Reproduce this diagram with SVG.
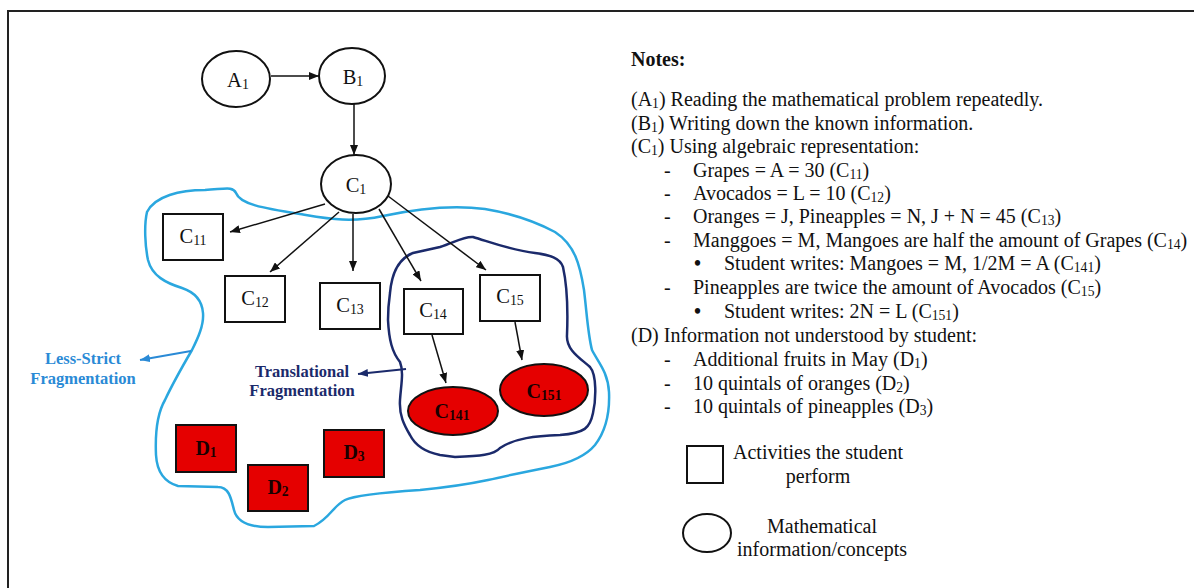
<svg xmlns="http://www.w3.org/2000/svg" width="1194" height="588" viewBox="0 0 1194 588">
<style>
text{font-family:"Liberation Serif","Times New Roman",serif;fill:#111}
.n{font-size:20px}
.bu{font-size:20px;font-weight:bold}
.lbl{font-size:20.5px;text-anchor:middle}
.bl{font-size:20px;text-anchor:middle;font-weight:bold;fill:#1a0000}
.s{font-size:0.68em;baseline-shift:-0.15em}
.node{fill:#fff;stroke:#111;stroke-width:2}
.red{fill:#e50000;stroke:#111;stroke-width:2}
.con{stroke:#111;stroke-width:1.5;fill:none;marker-end:url(#ah)}
.frag{font-size:16.5px;font-weight:bold;text-anchor:middle}
</style>
<defs>
<marker id="ah" viewBox="0 0 10 8" refX="10" refY="4" markerWidth="10" markerHeight="8" markerUnits="userSpaceOnUse" orient="auto"><path d="M0,0 L10,4 L0,8 z" fill="#111"/></marker>
<marker id="ahb" viewBox="0 0 10 8" refX="10" refY="4" markerWidth="10" markerHeight="8" markerUnits="userSpaceOnUse" orient="auto"><path d="M0,0 L10,4 L0,8 z" fill="#2a8ad6"/></marker>
<marker id="ahn" viewBox="0 0 10 8" refX="10" refY="4" markerWidth="10" markerHeight="8" markerUnits="userSpaceOnUse" orient="auto"><path d="M0,0 L10,4 L0,8 z" fill="#1b2a6b"/></marker>
</defs>
<rect width="1194" height="588" fill="#fff"/>
<path d="M8,588 L8,11 L1194,11" fill="none" stroke="#222" stroke-width="2"/>

<g id="regions" fill="none" stroke-width="2.5">
<path id="less-strict-region" stroke="#2aa7df" d="M147,212 C155,196 180,190 205,190 C225,189 233,186 236,193 C240,204 262,208 300,214 C330,219 350,223 383,216 C420,208 455,205 485,209 C515,214 540,224 555,232 C575,245 580,265 584,290 C587,315 588,335 592,350 C598,362 608,372 609,392 C610,415 605,432 595,445 C585,457 570,463 550,467 C525,472 505,476 488,480 C460,486 440,488 420,490 C390,492 355,495 345,500 C333,506 330,518 314,526 L268,527 C248,527 237,522 234,510 C231,498 229,487 218,487 L178,486 C164,482 157,472 156,455 C155,432 158,412 165,400 C172,385 185,362 192,350 C198,338 204,325 203,313 C202,300 194,292 182,288 C166,283 152,276 148,260 C145,246 144,225 147,212 Z"/>
<path id="translational-region" stroke="#1b2a6b" d="M390,293 C392,270 400,258 413,253 L440,247 C455,242 465,236 473,237 C490,242 510,250 535,253 C550,255 560,258 563,267 C567,285 568,310 567,335 C566,350 580,358 590,367 C597,375 596,400 593,413 C590,428 585,433 560,435 C535,436 515,438 500,448 C494,455 480,456 455,457 L440,455 C425,452 415,445 410,435 C404,425 399,415 400,400 C401,385 404,372 400,362 C392,352 389,340 388,320 C388,308 389,300 390,293 Z"/>
</g>

<g id="connectors">
<line class="con" x1="271" y1="76" x2="319" y2="76"/>
<line class="con" x1="354" y1="104" x2="354" y2="155"/>
<line class="con" x1="325" y1="204" x2="230" y2="232"/>
<line class="con" x1="339" y1="212" x2="270" y2="272"/>
<line class="con" x1="353" y1="214" x2="353" y2="271"/>
<line class="con" x1="379" y1="209" x2="421" y2="281"/>
<line class="con" x1="388" y1="196" x2="486" y2="270"/>
<line class="con" x1="432" y1="335" x2="446" y2="383"/>
<line class="con" x1="515" y1="322" x2="522" y2="360"/>
<line x1="191" y1="351" x2="140" y2="360" stroke="#2a8ad6" stroke-width="2" marker-end="url(#ahb)"/>
<line x1="406" y1="369" x2="358" y2="374" stroke="#1b2a6b" stroke-width="2" marker-end="url(#ahn)"/>
</g>

<g id="A1"><ellipse class="node" cx="236" cy="79" rx="34" ry="28"/><text class="lbl" x="238" y="87">A<tspan class="s">1</tspan></text></g>
<g id="B1"><ellipse class="node" cx="352" cy="76" rx="33" ry="28"/><text class="lbl" x="353" y="84">B<tspan class="s">1</tspan></text></g>
<g id="C1"><ellipse class="node" cx="356" cy="184" rx="35" ry="29"/><text class="lbl" x="356" y="192">C<tspan class="s">1</tspan></text></g>
<g id="C11"><rect class="node" x="163" y="214" width="60" height="46"/><text class="lbl" x="193" y="243">C<tspan class="s">11</tspan></text></g>
<g id="C12"><rect class="node" x="225" y="276" width="60" height="46"/><text class="lbl" x="255" y="305">C<tspan class="s">12</tspan></text></g>
<g id="C13"><rect class="node" x="320" y="283" width="60" height="46"/><text class="lbl" x="350" y="312">C<tspan class="s">13</tspan></text></g>
<g id="C14"><rect class="node" x="404" y="289" width="59" height="45"/><text class="lbl" x="433" y="317">C<tspan class="s">14</tspan></text></g>
<g id="C15"><rect class="node" x="480" y="275" width="60" height="46"/><text class="lbl" x="510" y="303">C<tspan class="s">15</tspan></text></g>
<g id="C141"><ellipse class="red" cx="453" cy="411" rx="45" ry="24"/><text class="bl" x="452" y="418">C<tspan class="s">141</tspan></text></g>
<g id="C151"><ellipse class="red" cx="544" cy="390" rx="44" ry="26"/><text class="bl" x="544" y="398">C<tspan class="s">151</tspan></text></g>
<g id="D1"><rect class="red" x="176" y="425" width="60" height="47"/><text class="bl" x="206" y="455">D<tspan class="s">1</tspan></text></g>
<g id="D2"><rect class="red" x="248" y="465" width="60" height="46"/><text class="bl" x="278" y="494">D<tspan class="s">2</tspan></text></g>
<g id="D3"><rect class="red" x="324" y="430" width="60" height="47"/><text class="bl" x="354" y="459">D<tspan class="s">3</tspan></text></g>

<g id="less-strict-label"><text class="frag" style="fill:#2a8ad6" x="83" y="364">Less-Strict</text><text class="frag" style="fill:#2a8ad6" x="83" y="384">Fragmentation</text></g>
<g id="translational-label"><text class="frag" style="fill:#1b2a6b" x="302" y="377">Translational</text><text class="frag" style="fill:#1b2a6b" x="302" y="396">Fragmentation</text></g>

<g id="notes">
<text class="n" x="631" y="66" font-weight="bold">Notes:</text>
<text class="n" x="631" y="106">(A<tspan class="s">1</tspan>) Reading the mathematical problem repeatedly.</text>
<text class="n" x="631" y="130">(B<tspan class="s">1</tspan>) Writing down the known information.</text>
<text class="n" x="631" y="153">(C<tspan class="s">1</tspan>) Using algebraic representation:</text>
<text class="n" x="664" y="177">-</text><text class="n" x="693" y="177">Grapes = A = 30 (C<tspan class="s">11</tspan>)</text>
<text class="n" x="664" y="200">-</text><text class="n" x="693" y="200">Avocados = L = 10 (C<tspan class="s">12</tspan>)</text>
<text class="n" x="664" y="223">-</text><text class="n" x="693" y="223">Oranges = J, Pineapples = N, J + N = 45 (C<tspan class="s">13</tspan>)</text>
<text class="n" x="664" y="247">-</text><text class="n" x="693" y="247">Manggoes = M, Mangoes are half the amount of Grapes (C<tspan class="s">14</tspan>)</text>
<text class="bu" x="694" y="270">•</text><text class="n" x="724" y="270">Student writes: Mangoes = M, 1/2M = A (C<tspan class="s">141</tspan>)</text>
<text class="n" x="664" y="294">-</text><text class="n" x="693" y="294">Pineapples are twice the amount of Avocados (C<tspan class="s">15</tspan>)</text>
<text class="bu" x="694" y="318">•</text><text class="n" x="724" y="318">Student writes: 2N = L (C<tspan class="s">151</tspan>)</text>
<text class="n" x="631" y="342">(D) Information not understood by student:</text>
<text class="n" x="664" y="366">-</text><text class="n" x="693" y="366">Additional fruits in May (D<tspan class="s">1</tspan>)</text>
<text class="n" x="664" y="390">-</text><text class="n" x="693" y="390">10 quintals of oranges (D<tspan class="s">2</tspan>)</text>
<text class="n" x="664" y="413">-</text><text class="n" x="693" y="413">10 quintals of pineapples (D<tspan class="s">3</tspan>)</text>
<text class="n" x="818" y="459" text-anchor="middle">Activities the student</text>
<text class="n" x="818" y="483" text-anchor="middle">perform</text>
<text class="n" x="822" y="533" text-anchor="middle">Mathematical</text>
<text class="n" x="822" y="556" text-anchor="middle">information/concepts</text>
</g>
<g id="legend-box"><rect class="node" x="687" y="446" width="36" height="37"/></g>
<g id="legend-circle"><ellipse class="node" cx="707" cy="533" rx="24" ry="19"/></g>
</svg>
